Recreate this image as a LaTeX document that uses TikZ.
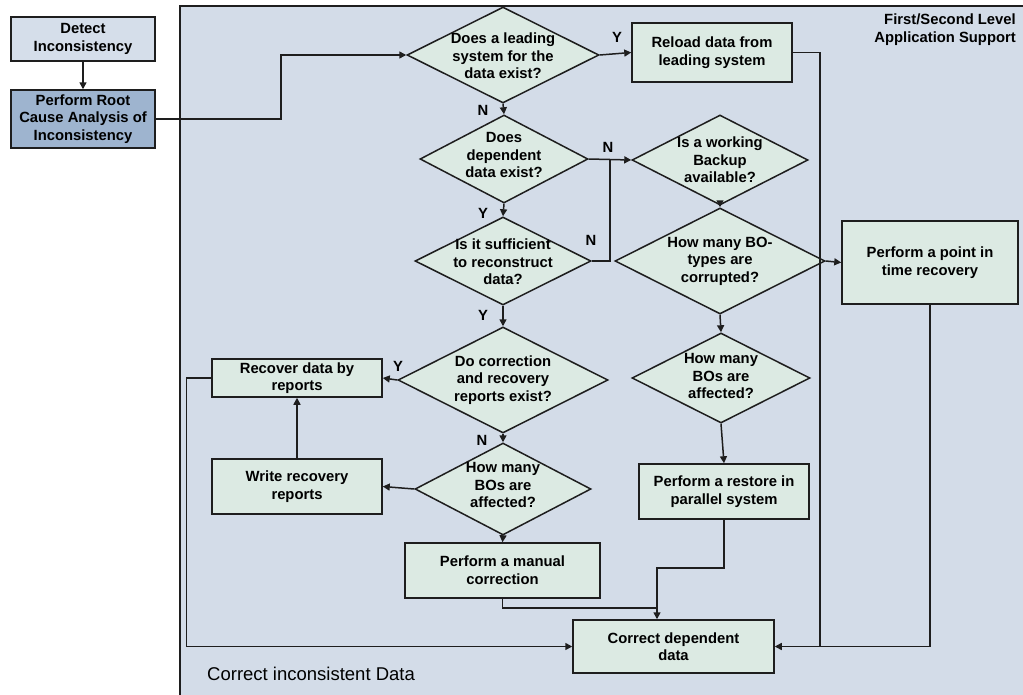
\documentclass[tikz,border=0pt]{standalone}
\usepackage{fontspec}
\setmainfont{Liberation Sans}
\usetikzlibrary{shapes.geometric,arrows.meta}
\definecolor{panelbg}{HTML}{D3DCE8}
\definecolor{boxfill}{HTML}{DCEAE3}
\definecolor{rootfill}{HTML}{9EB4CF}
\definecolor{detectfill}{HTML}{D5DEEA}
\definecolor{edge}{HTML}{1E1E1E}
\begin{document}
\begin{tikzpicture}[x=1pt,y=-1pt,
  font=\fontsize{14.8}{17.6}\selectfont\bfseries,
  stepbox/.style={draw=edge, line width=1.5pt, fill=boxfill, align=center, inner sep=0},
  dia/.style={diamond, draw=edge, line width=1.5pt, fill=boxfill, inner sep=0},
  txt/.style={align=center, inner sep=0},
  flow/.style={draw=edge, line width=1.5pt, -{Triangle[length=7pt,width=7pt]}},
  plain/.style={draw=edge, line width=1.5pt},
  yn/.style={inner sep=0}]
\useasboundingbox (0,0) rectangle (1023,694);
\fill[white] (0,0) rectangle (1023,694);

% support panel
\fill[panelbg] (180,6) rectangle (1030,700);
\draw[edge, line width=1.5pt] (180,700) -- (180,6) -- (1030,6);
\node[anchor=north east, align=right, inner sep=0] (lvl) at (1016,14) {First/Second Level\\Application Support};
\node[anchor=west, inner sep=0, font=\fontsize{18.5}{20}\selectfont] (cid) at (207,674) {Correct inconsistent Data};

% entry boxes
\node[stepbox, fill=detectfill, minimum width=144, minimum height=44] (detect) at (83,39) {Detect\\Inconsistency};
\node[stepbox, fill=rootfill, minimum width=144, minimum height=58] (root) at (83,119) {Perform Root\\Cause Analysis of\\Inconsistency};

% process boxes
\node[stepbox, minimum width=160, minimum height=59] (reload) at (712,52.5) {Reload data from\\leading system};
\node[stepbox, minimum width=176, minimum height=83] (point) at (930,262.5) {Perform a point in\\time recovery};
\node[stepbox, minimum width=170, minimum height=55] (restore) at (724,491.5) {Perform a restore in\\parallel system};
\node[stepbox, minimum width=170, minimum height=38] (recover) at (297,378) {Recover data by\\reports};
\node[stepbox, minimum width=170, minimum height=55] (write) at (297,486.5) {Write recovery\\reports};
\node[stepbox, minimum width=195, minimum height=55] (manual) at (502.5,570.5) {Perform a manual\\correction};
\node[stepbox, minimum width=201, minimum height=53] (correct) at (673.5,646.5) {Correct dependent\\data};

% decisions
\node[dia, minimum width=192, minimum height=96] (d1) at (503,55) {};
\node[txt] (t1) at (503,56) {Does a leading\\system for the\\data exist?};
\node[dia, minimum width=168, minimum height=88] (d2) at (504,159) {};
\node[txt] (t2) at (504,155) {Does\\dependent\\data exist?};
\node[dia, minimum width=176, minimum height=88] (d3) at (503,261) {};
\node[txt] (t3) at (503,262) {Is it sufficient\\to reconstruct\\data?};
\node[dia, minimum width=210, minimum height=106] (d4) at (503,380) {};
\node[txt] (t4) at (503,380) {Do correction\\and recovery\\reports exist?};
\node[dia, minimum width=176, minimum height=92] (d5) at (503,489) {};
\node[txt] (t5) at (503,485) {How many\\BOs are\\affected?};
\node[dia, minimum width=176, minimum height=90] (d6) at (720,160) {};
\node[txt] (t6) at (720,160) {Is a working\\Backup\\available?};
\node[dia, minimum width=210, minimum height=106] (d7) at (720,261) {};
\node[txt] (t7) at (720,261) {How many BO-\\types are\\corrupted?};
\node[dia, minimum width=178, minimum height=90] (d8) at (721,378) {};
\node[txt] (t8) at (721,376) {How many\\BOs are\\affected?};

% junction points
\coordinate (jn) at (610,159);
\coordinate (rs) at (657,568);
\coordinate (mj) at (657,608);
\coordinate (rj) at (819,646.5);

% connectors
\draw[flow] (detect) -- (root);
\draw[flow] (root.east) -- ++(125,0) |- (d1.west);
\draw[flow] (d1.east) -- (reload.west);
\draw[flow] (d1.south) -- (d2.north);
\draw[flow] (d2.east) -- (d6.west);
\draw[plain] (d3.east) -| (jn);
\draw[flow] (d2.south) -- (d3.north);
\draw[flow] (d3.south) -- (d4.north);
\draw[flow] (d4.west) -- (recover.east);
\draw[flow] (d4.south) -- (d5.north);
\draw[flow] (d5.west) -- (write.east);
\draw[flow] (write.north) -- (recover.south);
\draw[flow] (d5.south) -- (manual.north);
\draw[flow] (d6.south) -- (d7.north);
\draw[flow] (d7.east) -- (point.west);
\draw[flow] (d7.south) -- (d8.north);
\draw[flow] (d8.south) -- (restore.north);
\draw[flow] (restore.south) |- (rs) -- (rs |- correct.north);
\draw[plain] (manual.south) |- (mj);
\draw[flow] (recover.west) -- ++(-25,0) |- (correct.west);
\draw[flow] (reload.east) -- ++(27,0) |- (correct.east);
\draw[plain] (point.south) |- (rj);

% branch labels
\node[yn] (y1) at (617,37) {Y};
\node[yn] (n1) at (483,110) {N};
\node[yn] (n2) at (608,147) {N};
\node[yn] (y2) at (483,213) {Y};
\node[yn] (n3) at (591,240) {N};
\node[yn] (y3) at (483,315) {Y};
\node[yn] (y4) at (398,366) {Y};
\node[yn] (n4) at (482,440) {N};
\end{tikzpicture}
\end{document}
